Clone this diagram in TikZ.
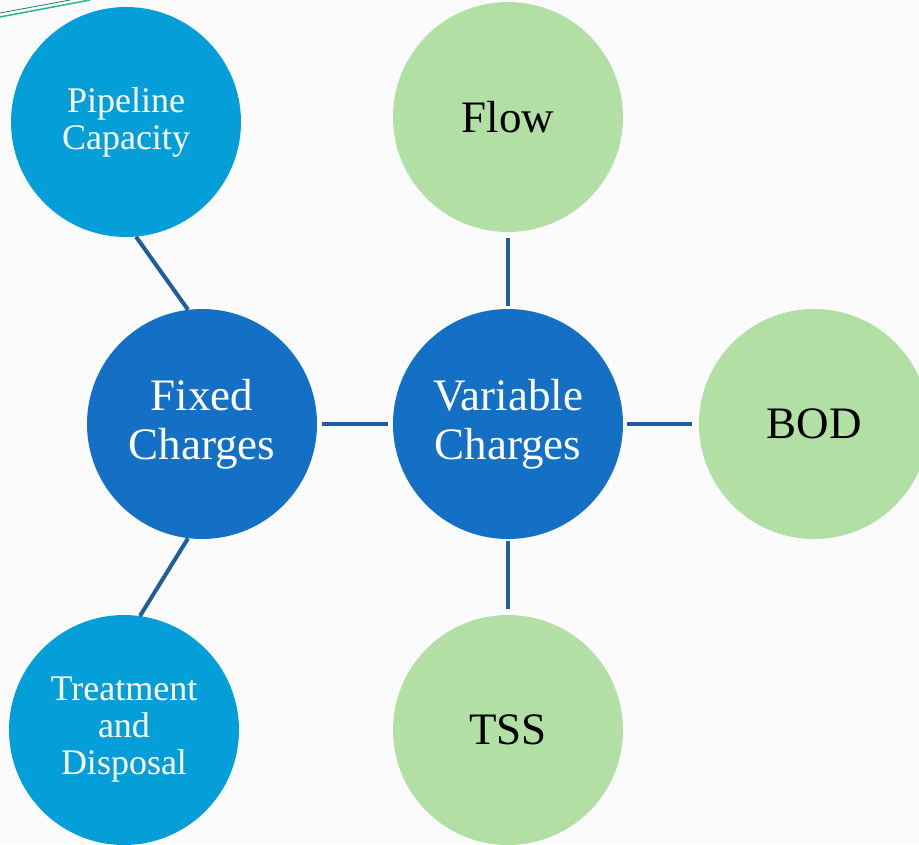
\documentclass[tikz,border=0pt]{standalone}
\usepackage{fontspec}
\setmainfont{Liberation Serif}
\definecolor{lblue}{HTML}{049FD9}
\definecolor{dblue}{HTML}{1470C4}
\definecolor{lgreen}{HTML}{B1DFA4}
\definecolor{linec}{HTML}{1F5E9E}
\definecolor{teal1}{HTML}{2AB59A}
\definecolor{bgc}{HTML}{FBFBFB}
\tikzset{
  bubble/.style={circle, inner sep=0pt, minimum size=230pt, align=center},
  bigtxt/.style={font=\fontsize{45}{49}\selectfont},
  smalltxt/.style={font=\fontsize{36}{37}\selectfont},
  fixedc/.style={bubble, fill=lblue, text=white, smalltxt},
  mainc/.style={bubble, fill=dblue, text=white, bigtxt},
  varc/.style={bubble, fill=lgreen, text=black, bigtxt},
  conn/.style={draw=linec, line width=4pt}
}
\begin{document}
\begin{tikzpicture}[x=1pt,y=-1pt]
\useasboundingbox (0,0) rectangle (919,844);
\clip (0,0) rectangle (919,844);
\fill[bgc] (0,0) rectangle (919,844);
\coordinate (t1a) at (0,17);
\coordinate (t1b) at (90,0);
\coordinate (t2a) at (0,13);
\coordinate (t2b) at (70,0);
\draw[teal1, line width=1.5pt] (t1a) -- (t1b);
\draw[teal1!70!black, line width=0.8pt] (t2a) -- (t2b);
\node[fixedc] (pipe) at (126,122) {Pipeline\\Capacity};
\node[fixedc] (treat) at (124,730) {Treatment\\and\\Disposal};
\node[mainc] (fixed) at (202,424) {Fixed\\Charges};
\node[mainc] (var) at (508,424) {Variable\\Charges};
\node[varc] (flow) at (508,117) {Flow};
\node[varc] (bod) at (814,424) {BOD};
\node[varc] (tss) at (508,730) {TSS};
\draw[conn] (pipe.-85) -- (fixed.97);
\draw[conn] (fixed.-97) -- (treat.82);
\draw[conn, shorten <=5pt, shorten >=5pt] (fixed.0) -- (var.180);
\draw[conn, shorten <=4pt, shorten >=7pt] (var.0) -- (bod.180);
\draw[conn, shorten <=3pt, shorten >=6pt] (var.90) -- (flow.-90);
\draw[conn, shorten <=2pt, shorten >=6pt] (var.-90) -- (tss.90);
\end{tikzpicture}
\end{document}
